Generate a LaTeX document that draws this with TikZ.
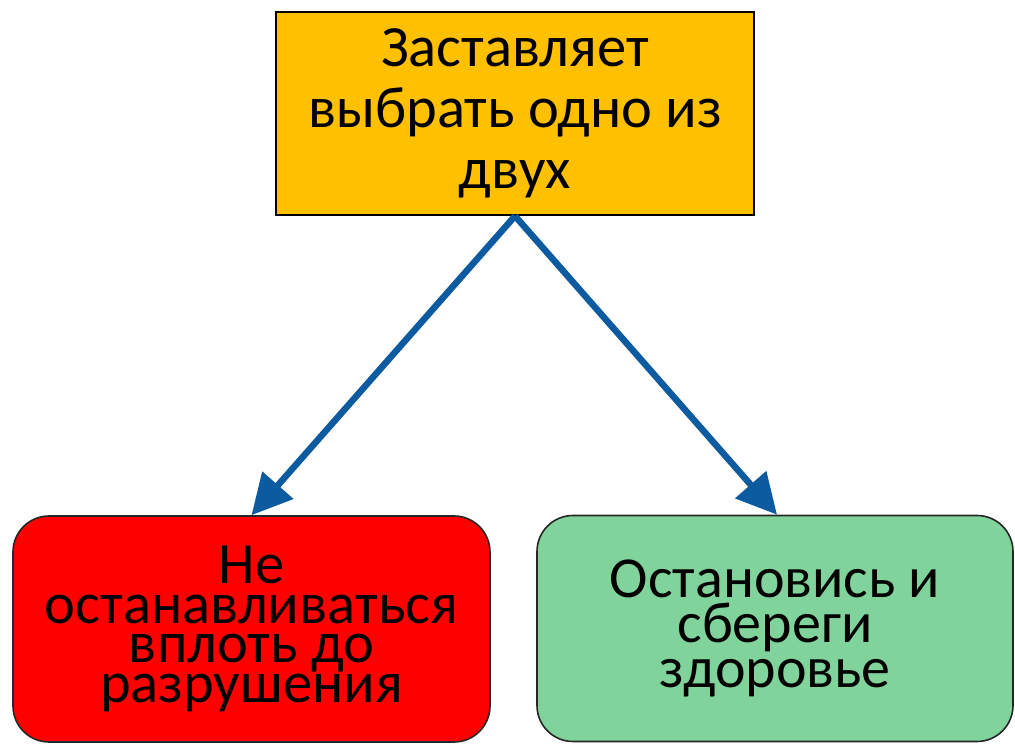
\documentclass[tikz,border=0pt]{standalone}
\usepackage{fontspec}
\setmainfont{Carlito}
\usetikzlibrary{arrows.meta}
\definecolor{topfill}{RGB}{255,192,0}
\definecolor{redfill}{RGB}{255,0,0}
\definecolor{greenfill}{RGB}{127,211,155}
\definecolor{arrowblue}{RGB}{12,90,160}
\tikzset{
  topbox/.style={draw=black, line width=2pt, fill=topfill, minimum width=478pt, minimum height=203pt, inner sep=0pt, align=center, font=\fontsize{58.5}{61}\selectfont},
  roundbox/.style={draw=black!85, line width=1.6pt, rounded corners=36pt, minimum width=477pt, minimum height=226pt, inner sep=0pt, align=center},
  conn/.style={draw=arrowblue, line width=6.5pt, -{Triangle[length=40pt,width=40pt]}}
}
\begin{document}
\begin{tikzpicture}[x=1pt,y=1pt]
\useasboundingbox (0,0) rectangle (1015,744);
\node[topbox] (top) at (515,630.5) {Заставляет\\выбрать одно из\\двух};
\node[roundbox, fill=redfill, font=\fontsize{58.5}{39.5}\selectfont] (left) at (251.5,115) {\raisebox{0pt}{Не}\\останавливаться\\вплоть до\\разрушения\rule[-10pt]{0pt}{0pt}};
\node[roundbox, fill=greenfill, font=\fontsize{58}{45}\selectfont, minimum width=476pt] (right) at (775,115.5) {Остановись и\\сбереги\\здоровье};
\draw[conn] (top.south) -- (left.north);
\draw[conn] (top.south) -- ([xshift=2pt]right.north);
\end{tikzpicture}
\end{document}
